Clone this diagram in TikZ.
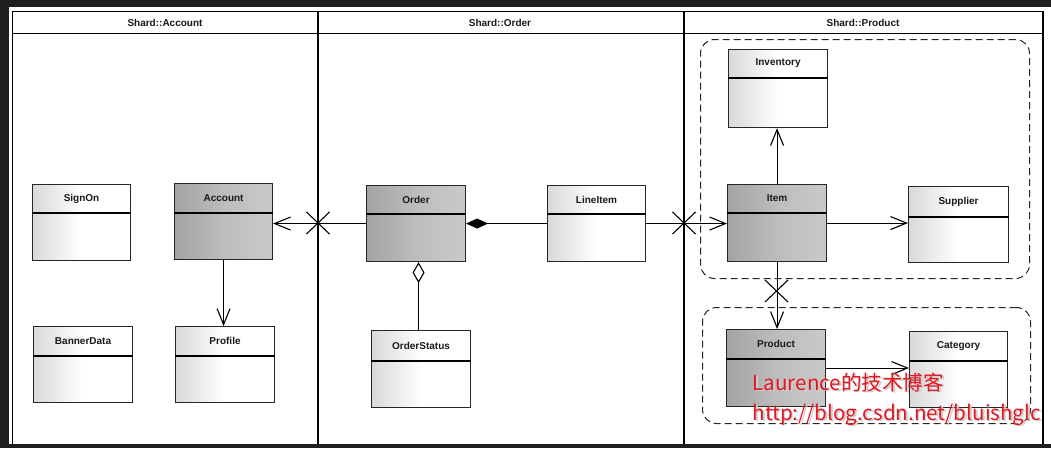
\documentclass[tikz,border=0pt]{standalone}
\usepackage{fontspec}
\setmainfont{Liberation Sans}
\newfontfamily\cjk{Noto Sans CJK SC}
\usetikzlibrary{arrows.meta,shapes.misc}
\definecolor{frame}{RGB}{30,30,30}
\definecolor{wmred}{RGB}{228,22,32}
\newcommand\umlbox[8]{%
  \node[#2, anchor=north west, minimum width=#5pt, minimum height=#6pt] (#1) at (#3,#4) {};
  \draw ([yshift=-#7pt]#1.north west) -- ([yshift=-#7pt]#1.north east);
  \node[clstext] (#1-t) at ([yshift={-#7/2*1pt}]#1.north) {#8};
}
\begin{document}
\begin{tikzpicture}[x=1pt,y=-1pt,line width=1.1pt,
  wcls/.style={draw=black!85, inner sep=0pt, left color=gray!30, right color=white, middle color=white},
  gcls/.style={draw=black!85, inner sep=0pt, left color=gray!72, right color=gray!42, middle color=gray!52},
  clstext/.style={font=\bfseries\fontsize{10}{12}\selectfont, inner sep=0pt, text=black!90},
  lanetext/.style={font=\bfseries\fontsize{10}{12}\selectfont, inner sep=0pt, text=black!90},
  arr/.style={-{Straight Barb[length=16pt,width=13pt]}},
  comp/.style={{Diamond[length=22pt,width=10pt]}-},
  aggr/.style={{Diamond[open,length=21pt,width=12pt]}-},
  xmark/.style={cross out, draw, inner sep=0pt, minimum width=22pt, minimum height=21pt},
  grp/.style={draw=black!85, dash pattern=on 7pt off 4pt, rounded corners=14pt, inner sep=0pt, line width=1pt},
  wm/.style={font=\cjk\fontsize{20.6}{24}\selectfont, inner sep=0pt, text=wmred}
]
\useasboundingbox (0,0) rectangle (1051,448);
\fill[white] (0,0) rectangle (1051,448);
% frame bands
\fill[frame] (0,0) rectangle (1051,7);
\fill[frame] (0,0) rectangle (9,448);
% swimlanes
\draw (12.5,11.5) rectangle (1043,446);
\draw (12.5,33.5) -- (1043,33.5);
\draw (318,11.5) -- (318,446);
\draw (684,11.5) -- (684,446);
\node[lanetext] (laneA) at (165,22.5) {Shard::Account};
\node[lanetext] (laneO) at (500,22.5) {Shard::Order};
\node[lanetext] (laneP) at (863,22.5) {Shard::Product};
\fill[frame] (0,444) rectangle (1051,448);
% groups
\node[grp, anchor=north west, minimum width=329pt, minimum height=239pt] (g1) at (700,39) {};
\node[grp, anchor=north west, minimum width=328pt, minimum height=116pt] (g2) at (702,307) {};
% classes
\umlbox{signon}{wcls}{32}{184}{98}{76}{29}{SignOn}
\umlbox{account}{gcls}{174}{183}{98}{76}{30}{Account}
\umlbox{banner}{wcls}{33}{326}{99}{76}{30}{BannerData}
\umlbox{profile}{wcls}{175}{326}{99}{76}{30}{Profile}
\umlbox{order}{gcls}{366}{185}{99}{76}{29}{Order}
\umlbox{lineitem}{wcls}{547}{185}{98}{76}{29}{LineItem}
\umlbox{ostatus}{wcls}{371}{330}{99}{77}{31}{OrderStatus}
\umlbox{inventory}{wcls}{728}{49}{99}{78}{29}{Inventory}
\umlbox{item}{gcls}{727}{184}{99}{77}{29}{Item}
\umlbox{supplier}{wcls}{908}{186}{100}{76}{31}{Supplier}
\umlbox{product}{gcls}{726}{329}{99}{77}{30}{Product}
\umlbox{category}{wcls}{909}{331}{98}{76}{30}{Category}
% connectors
\draw[arr] (order.west) -- (order.west -| account.east);
\node[xmark] (x1) at (318,223) {};
\draw[comp] (order.east) -- (lineitem.west);
\draw[arr] (lineitem.east) -- (lineitem.east -| item.west);
\node[xmark] (x2) at (684,223) {};
\draw[arr] (item.north) -- (item.north |- inventory.south);
\draw[arr] (item.east) -- (item.east -| supplier.west);
\draw[arr] (item.south) -- (item.south |- product.north);
\node[xmark] (x3) at (776.5,291) {};
\draw[arr] (product.east) -- (product.east -| category.west);
\draw[aggr] ([xshift=2.5pt]order.south) -- ([xshift=2.5pt]order.south |- ostatus.north);
\draw[arr] (account.south) -- (account.south |- profile.north);
% watermark
\node[wm, text=gray!40, anchor=base west] (wm1s) at (753.8,391.8) {Laurence的技术博客};
\node[wm, text=gray!40, anchor=base west] (wm2s) at (753.8,421.8) {http://blog.csdn.net/bluishglc};
\node[wm, anchor=base west] (wm1) at (752,390) {Laurence的技术博客};
\node[wm, anchor=base west] (wm2) at (752,420) {http://blog.csdn.net/bluishglc};
\end{tikzpicture}
\end{document}
